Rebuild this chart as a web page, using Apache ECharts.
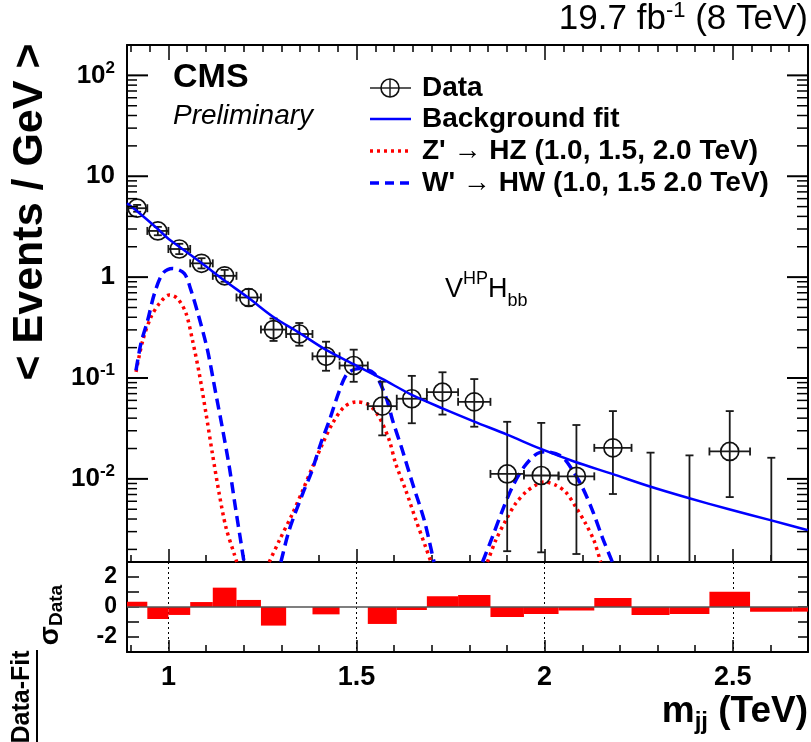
<!DOCTYPE html>
<html>
<head>
<meta charset="utf-8">
<script src="https://cdn.jsdelivr.net/npm/echarts@6/dist/echarts.min.js"></script>
<style>
html, body { margin: 0; padding: 0; background: #fff; }
#chart { width: 811px; height: 742px; }
</style>
</head>
<body>
<div id="chart"></div>
<script>
// dijet mass bins (TeV)
var binEdges = [0.890, 0.944, 1.000, 1.058, 1.118, 1.181, 1.246, 1.313, 1.383, 1.455, 1.530, 1.607,
                1.687, 1.770, 1.856, 1.945, 2.037, 2.132, 2.231, 2.332, 2.438, 2.546, 2.659, 2.775];
// data, events / GeV (0 = empty bin, null = outside the plot)
var dataVal  = [4.82, 2.87, 1.90, 1.37, 1.03, 0.628, 0.302, 0.273, 0.164, 0.133, 0.0526, 0.0623,
                0.0724, 0.058, 0.0112, 0.0108, 0.0106, 0.0203, 0, 0, 0.0187, 0, null];
var dataLow  = [4.45, 2.60, 1.69, 1.22, 0.90, 0.52, 0.233, 0.209, 0.118, 0.0917, 0.027, 0.0356,
                0.0434, 0.0329, 0.00192, 0.00187, 0.0018, 0.00708, 0, 0, 0.0066, 0, null];
var dataHigh = [5.20, 3.15, 2.14, 1.54, 1.18, 0.76, 0.389, 0.351, 0.229, 0.191, 0.092, 0.105,
                0.114, 0.0976, 0.0368, 0.0359, 0.0342, 0.047, 0.0182, 0.0171, 0.047, 0.0162, null];
// (data - fit) / sigma per bin
var pull = [0.35, -0.8, -0.53, 0.33, 1.29, 0.47, -1.24, 0, -0.49, 0, -1.13, -0.2,
            0.71, 0.8, -0.67, -0.47, -0.24, 0.6, -0.53, -0.47, 1.02, -0.31, -0.31];

// background fit
var bkgX = [0.89, 0.917, 0.972, 1.0, 1.029, 1.088, 1.15, 1.2135, 1.28, 1.348, 1.419, 1.4925, 1.5685,
            1.647, 1.7285, 1.813, 1.9, 1.99, 2.08, 2.18, 2.28, 2.38, 2.49, 2.6, 2.7];
var bkgY = [5.4, 4.5, 3.0, 2.4, 2.0, 1.38, 0.92, 0.62, 0.40, 0.28, 0.19, 0.137, 0.098,
            0.068, 0.050, 0.037, 0.0275, 0.0198, 0.0148, 0.0112, 0.0084, 0.0065, 0.0050, 0.0039, 0.0031];

// signal shapes [mjj, events/GeV]
var zp1000 = [[0.914,0.115],[0.932,0.237],[0.954,0.404],[0.976,0.548],[1.0,0.663],[1.024,0.615],[1.047,0.436],
              [1.064,0.237],[1.082,0.111],[1.1,0.0444],[1.117,0.0178],[1.135,0.00715],[1.153,0.0033],[1.175,0.0018],[1.19,0.0012]];
var zp1500 = [[1.255,0.0012],[1.268,0.0015],[1.295,0.00246],[1.33,0.00453],[1.357,0.0077],[1.383,0.0131],[1.41,0.0224],
              [1.436,0.0354],[1.467,0.0516],[1.498,0.058],[1.534,0.0537],[1.56,0.0411],[1.587,0.0242],[1.604,0.0142],
              [1.631,0.0077],[1.658,0.0039],[1.684,0.0021],[1.698,0.0015],[1.71,0.0011]];
var zp2000 = [[1.835,0.0011],[1.848,0.0015],[1.87,0.00246],[1.897,0.0039],[1.923,0.00569],[1.95,0.0074],[1.976,0.00865],
              [1.998,0.00933],[2.03,0.00865],[2.056,0.0074],[2.083,0.00526],[2.109,0.0036],[2.131,0.00246],[2.149,0.0015],[2.16,0.0011]];
var wp1000 = [[0.914,0.119],[0.927,0.22],[0.945,0.374],[0.963,0.689],[0.985,1.09],[1.011,1.22],[1.042,1.09],[1.06,0.743],
              [1.081,0.404],[1.104,0.189],[1.126,0.0702],[1.143,0.0327],[1.162,0.0131],[1.178,0.00526],[1.192,0.00246],[1.205,0.0012]];
var wp1500 = [[1.285,0.0011],[1.299,0.0015],[1.321,0.0031],[1.357,0.00715],[1.379,0.0113],[1.405,0.0224],[1.428,0.0381],
              [1.455,0.0758],[1.476,0.111],[1.507,0.124],[1.547,0.111],[1.578,0.065],[1.596,0.038],[1.622,0.0192],
              [1.649,0.00898],[1.68,0.0039],[1.706,0.0015],[1.72,0.0011]];
var wp2000 = [[1.822,0.0011],[1.835,0.0015],[1.861,0.00265],[1.888,0.00488],[1.914,0.0083],[1.945,0.0131],[1.98,0.0178],
              [2.011,0.0185],[2.047,0.0165],[2.074,0.0122],[2.1,0.0083],[2.127,0.00488],[2.153,0.00265],[2.18,0.0015],[2.19,0.0011]];

// axes
var X_MIN = 0.89, X_MAX = 2.7;
var Y_MIN = 0.0015, Y_MAX = 200;
var xLabels = [1, 1.5, 2, 2.5];
var yMajor = [0.01, 0.1, 1, 10, 100];
var ratioTicks = [-2, -1, 0, 1, 2];
var ratioLabels = [-2, 0, 2];

var FONT = '"Liberation Sans", Arial, Helvetica, sans-serif';

function steps(a, b, d) {
    var out = [];
    for (var t = a; t <= b + 1e-9; t += d) out.push(Math.round(t * 1000) / 1000);
    return out;
}
var xTicksFine = steps(0.9, 2.7, 0.1);
var xTicksTop = steps(0.9, 2.7, 0.05);
var yMinor = [];
for (var ex = -3; ex <= 2; ex++) {
    for (var mm = 2; mm <= 9; mm++) {
        var tv = mm * Math.pow(10, ex);
        if (tv >= Y_MIN && tv <= Y_MAX) yMinor.push(tv);
    }
}

var points = [];
for (var k = 0; k < dataVal.length; k++) {
    if (dataVal[k] === null) continue;
    points.push([(binEdges[k] + binEdges[k + 1]) / 2, dataVal[k], dataLow[k], dataHigh[k], binEdges[k], binEdges[k + 1]]);
}
var pullBars = pull.map(function (p, j) { return [binEdges[j], binEdges[j + 1], p]; });
var bkgPts = bkgX.map(function (x, j) { return [x, bkgY[j]]; });
var yTickItems = yMajor.map(function (v) { return [1.5, v, 1]; })
    .concat(yMinor.map(function (v) { return [1.5, v, 0]; }));

function ln(x1, y1, x2, y2, w, c) {
    return { type: 'line', shape: { x1: x1, y1: y1, x2: x2, y2: y2 }, style: { stroke: c || '#1a1a1a', lineWidth: w || 1.8 } };
}

function renderData(params, api) {
    var cs = params.coordSys;
    var xc = api.value(0), v = api.value(1), lo = api.value(2), hi = api.value(3);
    var bottom = cs.y + cs.height;
    var top = api.coord([xc, hi]);
    var px = top[0];
    var yLo = lo > 0 ? api.coord([xc, lo])[1] : bottom;
    var kids = [ln(px, top[1], px, yLo), ln(px - 4, top[1], px + 4, top[1])];
    if (lo > 0) kids.push(ln(px - 4, yLo, px + 4, yLo));
    if (v > 0) {
        var p = api.coord([xc, v]);
        var pl = api.coord([api.value(4), v]);
        var ph = api.coord([api.value(5), v]);
        kids.push(ln(pl[0], p[1], ph[0], p[1]));
        kids.push(ln(pl[0], p[1] - 4, pl[0], p[1] + 4));
        kids.push(ln(ph[0], p[1] - 4, ph[0], p[1] + 4));
        kids.push({ type: 'circle', shape: { cx: p[0], cy: p[1], r: 9 }, style: { fill: 'none', stroke: '#111', lineWidth: 1.7 } });
    }
    return { type: 'group', children: kids };
}

function renderYTicks(params, api) {
    var cs = params.coordSys;
    var y = api.coord([api.value(0), api.value(1)])[1];
    var major = api.value(2) === 1;
    var lenL = major ? 21 : 10, lenR = major ? 21 : 11, w = major ? 2 : 1.5;
    return { type: 'group', children: [
        ln(cs.x, y, cs.x + lenL, y, w, '#000'),
        ln(cs.x + cs.width - lenR, y, cs.x + cs.width, y, w, '#000')
    ] };
}

function renderPull(params, api) {
    var cs = params.coordSys;
    var p0 = api.coord([api.value(0), 0]);
    var p1 = api.coord([api.value(1), api.value(2)]);
    var rect = echarts.graphic.clipRectByRect({
        x: p0[0], y: Math.min(p0[1], p1[1]),
        width: p1[0] - p0[0], height: Math.abs(p1[1] - p0[1])
    }, { x: cs.x, y: cs.y, width: cs.width, height: cs.height });
    return rect && { type: 'rect', shape: rect, style: { fill: '#ff0000' } };
}

// cut a pixel polyline where it leaves the frame through the bottom edge
function cutAtBottom(pts, bottom) {
    var out = [];
    for (var j = 0; j < pts.length; j++) {
        var p = pts[j], inside = p[1] <= bottom;
        if (j > 0) {
            var q = pts[j - 1], qIn = q[1] <= bottom;
            if (inside !== qIn) {
                var f = (bottom - q[1]) / (p[1] - q[1]);
                out.push([q[0] + f * (p[0] - q[0]), bottom]);
            }
        }
        if (inside) out.push(p);
    }
    return out;
}

// one polyline per curve, drawn through the axes' scales
function curveSeries(arr, stroke, width, dash, z) {
    return {
        type: 'custom', xAxisIndex: 0, yAxisIndex: 0, data: arr, encode: { x: 0, y: 1 },
        silent: true, z: z, clip: false,
        renderItem: function (params, api) {
            if (params.dataIndex !== 0) return null;
            var cs = params.coordSys;
            var pts = cutAtBottom(arr.map(function (p) { return api.coord(p); }), cs.y + cs.height);
            return {
                type: 'polyline', shape: { points: pts, smooth: 0.3 },
                style: { stroke: stroke, lineWidth: width, lineDash: dash, fill: 'none' }
            };
        }
    };
}

function logLabel(value) {
    var lg = Math.log(value) / Math.LN10;
    var r = Math.round(lg);
    if (Math.abs(lg - r) > 1e-6) return '';
    if (r === 0) return '{b|1}';
    if (r === 1) return '{b|10}';
    return '{b|10}{p|' + r + '}';
}

function xAx(grid, pos, ticks, len, lineShow, label, split) {
    return {
        gridIndex: grid, type: 'value', min: X_MIN, max: X_MAX, position: pos,
        axisLine: { show: lineShow, onZero: false, lineStyle: { color: '#000', width: 2 } },
        axisTick: { show: true, inside: true, length: len, customValues: ticks, lineStyle: { color: '#000', width: 1.5 } },
        axisLabel: label || { show: false },
        splitLine: split || { show: false }
    };
}

function txt(x, y, text, font, extra) {
    var st = { text: text, font: font, fill: '#000', textAlign: 'left', align: 'left',
               textVerticalAlign: 'middle', verticalAlign: 'middle' };
    for (var key in (extra || {})) st[key] = extra[key];
    return { type: 'text', x: x, y: y, style: st };
}

// titles, legend and labels
function renderAnnotations() {
    var kids = [
        txt(808, 19, '{a|19.7 fb}{p|-1}{a| (8 TeV)}', null, {
            textAlign: 'right', align: 'right',
            rich: {
                a: { fontSize: 35, fontFamily: FONT, fill: '#000', lineHeight: 38 },
                p: { fontSize: 22, fontFamily: FONT, fill: '#000', lineHeight: 22, verticalAlign: 'top' }
            } }),
        txt(173, 78, 'CMS', 'bold 34px ' + FONT),
        txt(173, 116, 'Preliminary', 'italic 28px ' + FONT),
        txt(445, 290, '{a|V}{p|HP}{a|H}{s|bb}', null, {
            rich: {
                a: { fontSize: 27, fontFamily: FONT, fill: '#000', lineHeight: 40 },
                p: { fontSize: 18, fontFamily: FONT, fill: '#000', lineHeight: 24, verticalAlign: 'top' },
                s: { fontSize: 18, fontFamily: FONT, fill: '#000', lineHeight: 20, verticalAlign: 'bottom' }
            } }),
        // legend
        ln(370, 88, 411, 88, 1.5, '#222'),
        ln(390, 79, 390, 97, 1.5, '#222'),
        { type: 'circle', shape: { cx: 390, cy: 88, r: 9 }, style: { fill: 'none', stroke: '#111', lineWidth: 1.6 } },
        txt(422, 88, 'Data', 'bold 28px ' + FONT),
        ln(370, 119, 411, 119, 2.5, '#0000ff'),
        txt(422, 119, 'Background fit', 'bold 28px ' + FONT),
        { type: 'line', shape: { x1: 370, y1: 151, x2: 411, y2: 151 }, style: { stroke: '#ff0000', lineWidth: 3.5, lineDash: [3, 4] } },
        txt(422, 151, "Z' \u2192 HZ (1.0, 1.5, 2.0 TeV)", 'bold 28px ' + FONT),
        { type: 'line', shape: { x1: 370, y1: 183, x2: 411, y2: 183 }, style: { stroke: '#0000ff', lineWidth: 3.5, lineDash: [9, 6] } },
        txt(422, 183, "W' \u2192 HW (1.0, 1.5 2.0 TeV)", 'bold 28px ' + FONT),
        // x title
        txt(808, 712, '{a|m}{s|jj}{a| (TeV)}', null, {
            textAlign: 'right', align: 'right',
            rich: {
                a: { fontSize: 37, fontWeight: 'bold', fontFamily: FONT, fill: '#000', lineHeight: 44 },
                s: { fontSize: 24, fontWeight: 'bold', fontFamily: FONT, fill: '#000', lineHeight: 22, verticalAlign: 'bottom' }
            } }),
        ln(37, 650, 37, 742, 2, '#000')
    ];
    var yTitle = txt(30, 212, '< Events / GeV >', 'bold 43px ' + FONT, { textAlign: 'center', align: 'center' });
    yTitle.rotation = Math.PI / 2;
    var num = txt(22, 697, 'Data-Fit', 'bold 25px ' + FONT, { textAlign: 'center', align: 'center' });
    num.rotation = Math.PI / 2;
    var den = txt(50, 615, '{a|\u03c3}{s|Data}', null, {
        textAlign: 'center', align: 'center',
        rich: {
            a: { fontSize: 28, fontWeight: 'bold', fontFamily: FONT, fill: '#000', lineHeight: 32 },
            s: { fontSize: 19, fontWeight: 'bold', fontFamily: FONT, fill: '#000', lineHeight: 20, verticalAlign: 'bottom' }
        } });
    den.rotation = Math.PI / 2;
    kids.push(yTitle, num, den);
    return { type: 'group', children: kids };
}

var chart = echarts.init(document.getElementById('chart'), null, { renderer: 'canvas' });

var option = {
    animation: false,
    grid: [
        { left: 127, top: 45, width: 681, height: 517, outerBoundsMode: 'none' },
        { left: 127, top: 562, width: 681, height: 90, outerBoundsMode: 'none' }
    ],
    xAxis: [
        xAx(0, 'bottom', xTicksFine, 7, true),
        xAx(0, 'bottom', xLabels, 13, false),
        xAx(0, 'top', xTicksTop, 7, true),
        xAx(0, 'top', xLabels, 15, false),
        xAx(1, 'bottom', xTicksFine, 7, true, {
            show: true, customValues: xLabels, margin: 12, color: '#000',
            fontSize: 27, fontWeight: 'bold', fontFamily: FONT
        }),
        xAx(1, 'bottom', xLabels, 12, false, null, {
            show: true, lineStyle: { color: '#000', width: 1, type: [2, 3] }
        })
    ],
    yAxis: [
        {
            gridIndex: 0, type: 'log', min: Y_MIN, max: Y_MAX, position: 'left',
            axisLine: { show: true, onZero: false, lineStyle: { color: '#000', width: 2 } },
            axisTick: { show: false },
            splitLine: { show: false },
            axisLabel: {
                show: true, margin: 12, formatter: logLabel,
                rich: {
                    b: { fontSize: 26, fontWeight: 'bold', fontFamily: FONT, color: '#000', lineHeight: 32 },
                    p: { fontSize: 17, fontWeight: 'bold', fontFamily: FONT, color: '#000', lineHeight: 18, verticalAlign: 'top' }
                }
            }
        },
        {
            gridIndex: 0, type: 'log', min: Y_MIN, max: Y_MAX, position: 'right',
            axisLine: { show: true, onZero: false, lineStyle: { color: '#000', width: 2 } },
            axisTick: { show: false }, axisLabel: { show: false }, splitLine: { show: false }
        },
        {
            gridIndex: 1, type: 'value', min: -3, max: 3, position: 'left',
            axisLine: { show: true, onZero: false, lineStyle: { color: '#000', width: 2 } },
            axisTick: { show: true, inside: true, length: 12, customValues: ratioTicks, lineStyle: { color: '#000', width: 1.5 } },
            axisLabel: { show: true, customValues: ratioLabels, margin: 10, color: '#000', fontSize: 23, fontWeight: 'bold', fontFamily: FONT },
            splitLine: { show: false }
        },
        {
            gridIndex: 1, type: 'value', min: -3, max: 3, position: 'right',
            axisLine: { show: true, onZero: false, lineStyle: { color: '#000', width: 2 } },
            axisTick: { show: true, inside: true, length: 10, customValues: ratioTicks, lineStyle: { color: '#000', width: 1.5 } },
            axisLabel: { show: false }, splitLine: { show: false }
        }
    ],
    series: [
        {
            type: 'custom', xAxisIndex: 0, yAxisIndex: 0, data: yTickItems, encode: { x: 0, y: 1 },
            renderItem: renderYTicks, silent: true, z: 6, clip: false
        },
        {
            type: 'custom', xAxisIndex: 0, yAxisIndex: 0, data: points, encode: { x: 0, y: 1 },
            renderItem: renderData, silent: true, z: 4, clip: false
        },
        {
            type: 'custom', xAxisIndex: 4, yAxisIndex: 2, data: pullBars,
            encode: { x: [0, 1], y: 2 }, renderItem: renderPull, silent: true, z: 2, clip: false,
            markLine: {
                silent: true, symbol: 'none', animation: false, label: { show: false },
                lineStyle: { color: '#555', width: 1.5, type: 'solid' },
                data: [{ yAxis: 0 }]
            }
        },
        curveSeries(zp1000, '#ff0000', 3.5, [3, 4], 3),
        curveSeries(zp1500, '#ff0000', 3.5, [3, 4], 3),
        curveSeries(zp2000, '#ff0000', 3.5, [3, 4], 3),
        curveSeries(wp1000, '#0000ff', 3.5, [11, 6], 3),
        curveSeries(wp1500, '#0000ff', 3.5, [11, 6], 3),
        curveSeries(wp2000, '#0000ff', 3.5, [11, 6], 3),
        curveSeries(bkgPts, '#0000ff', 2.5, null, 5),
        {
            type: 'custom', coordinateSystem: 'none', data: [0], silent: true, z: 7, clip: false,
            renderItem: renderAnnotations
        }
    ]
};

chart.setOption(option);
chart.getZr().refreshImmediately();
setTimeout(function () { chart.resize(); }, 30);
</script>
</body>
</html>
